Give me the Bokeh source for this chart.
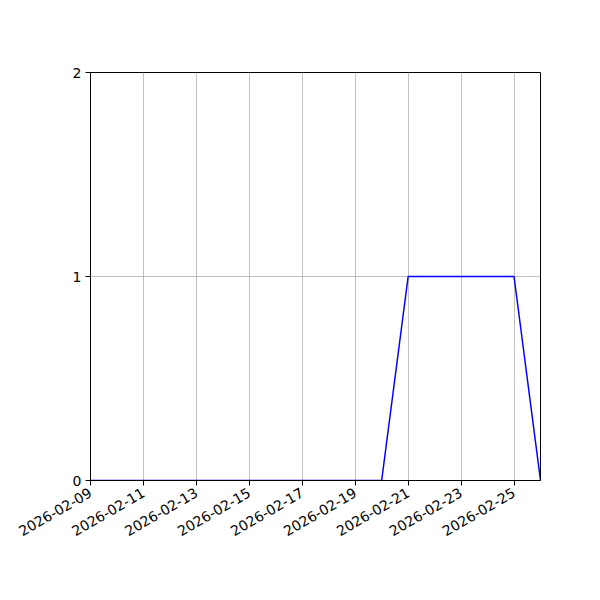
import math
from datetime import datetime, timedelta
from bokeh.plotting import figure
from bokeh.models import DatetimeTickFormatter, DaysTicker, FixedTicker, Range1d
from bokeh.embed import file_html
from bokeh.resources import INLINE

start = datetime(2026, 2, 9)
dates = [start + timedelta(days=i) for i in range(18)]
values = [0, 0, 0, 0, 0, 0, 0, 0, 0, 0, 0, 0, 1, 1, 1, 1, 1, 0]
y_ticks = [0, 1, 2]

p = figure(
    x_axis_type="datetime",
    frame_width=450, frame_height=408,
    min_border_left=90, min_border_right=60,
    min_border_top=72, min_border_bottom=120,
    output_backend="svg", toolbar_location=None,
    x_range=Range1d(dates[0], dates[-1]),
    y_range=Range1d(0, 2),
)

p.line(dates, values, line_color="#0000ff", line_width=1.5)

p.xaxis.ticker = DaysTicker(days=list(range(1, 32, 2)))
p.xaxis.formatter = DatetimeTickFormatter(days="%Y-%m-%d", months="%Y-%m-%d")
p.xaxis.major_label_orientation = math.pi / 6
p.yaxis.ticker = FixedTicker(ticks=y_ticks)

for ax in (p.xaxis, p.yaxis):
    ax.major_label_text_font = "DejaVu Sans"
    ax.major_label_text_font_size = "14px"
    ax.major_label_text_color = "black"
    ax.axis_line_color = "black"
    ax.major_tick_line_color = "black"
    ax.major_tick_out = 5
    ax.major_tick_in = 0
    ax.minor_tick_line_color = None
    ax.major_label_standoff = 4
p.xaxis.major_label_standoff = 6

p.xgrid.ticker = p.xaxis.ticker
p.ygrid.ticker = FixedTicker(ticks=y_ticks)
p.grid.grid_line_color = "#b0b0b0"
p.grid.grid_line_width = 0.8
p.outline_line_color = "black"
p.outline_line_width = 1
p.background_fill_color = "white"
p.border_fill_color = "white"

open("out.html", "w").write(file_html(p, INLINE))
